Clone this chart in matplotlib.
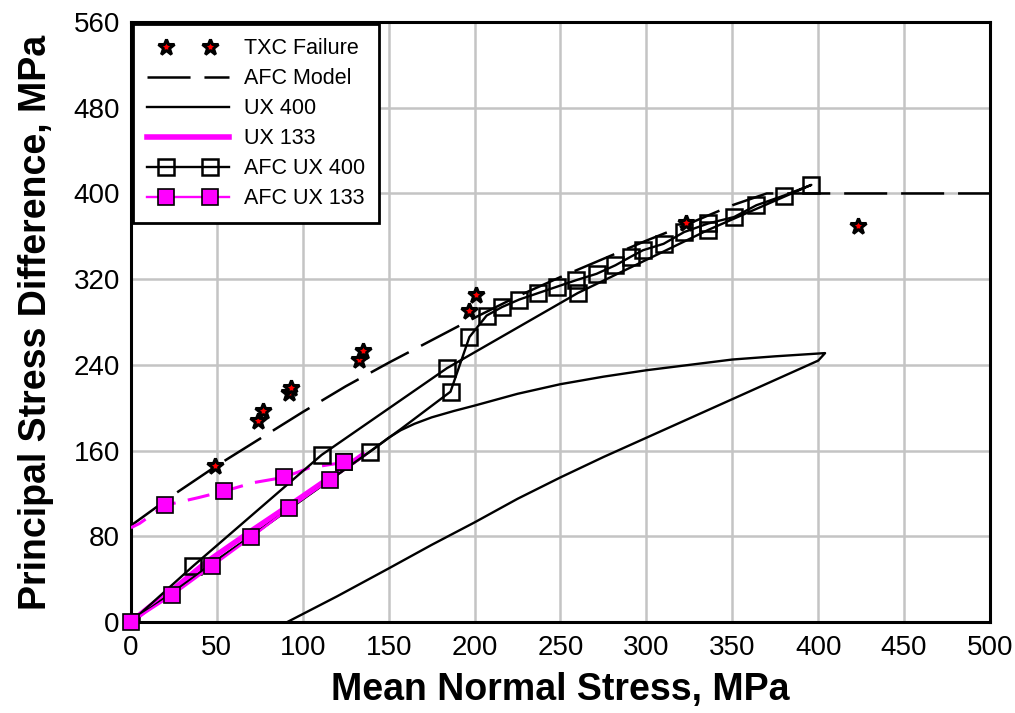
import matplotlib
matplotlib.use("Agg")
from matplotlib import pyplot as plt
from matplotlib.legend_handler import HandlerLine2D

# Pontos de ruptura TXC
txc_media = [49, 74, 77, 92, 93, 133, 135, 197, 201, 323, 423]
txc_diferenca = [146, 188, 197, 214, 218, 245, 253, 290, 305, 372, 370]

# Superficie do modelo AFC
afc_media = [0, 25, 50, 75, 100, 125, 150, 175, 200, 225, 250, 275, 300, 325, 350, 370, 500]
afc_diferenca = [90, 119, 146, 171, 196, 220, 242, 263, 284, 304, 322, 339, 356, 372, 389, 400, 400]

# Ensaio UX 400 (carga e descarga)
ux400_media = [0, 25, 50, 75, 100, 125, 140, 150, 157, 165, 175, 188, 200, 225, 250, 275, 300, 325, 350,
               375, 404, 400, 375, 350, 325, 300, 275, 250, 225, 200, 175, 150, 120, 91]
ux400_diferenca = [0, 29, 58, 86, 115, 143, 160, 172, 179, 185, 191, 197, 202, 213, 222, 229, 235, 240, 245,
                   248, 251, 244, 226, 208, 190, 172, 154, 135, 115, 93, 72, 50, 24, 0]

# Ensaio UX 133 (carga e descarga)
ux133_media = [0, 10, 25, 44, 70, 96, 116, 128, 135]
ux133_diferenca = [0, 13, 31, 56, 85, 113, 135, 148, 156]
ux133_descarga_media = [124, 104, 89, 71, 54, 39, 20, 5, 0]
ux133_descarga_diferenca = [149, 144, 135, 130, 122, 116, 109, 92, 88]

# Modelo AFC UX 400
afc400_media = [0, 139, 157, 186, 197, 207, 216, 226, 237, 248, 259, 271, 282, 291, 298, 310, 322, 336,
                351, 364, 380, 396, 336, 260, 184, 111, 36, 0]
afc400_diferenca = [0, 159, 180, 215, 266, 286, 294, 301, 307, 313, 319, 325, 333, 341, 347, 353, 364, 372,
                    378, 389, 398, 408, 366, 307, 237, 156, 52, 0]
afc400_marcas = [0, 1, 3, 4, 5, 6, 7, 8, 9, 10, 11, 12, 13, 14, 15, 16, 17, 18, 19, 20, 21, 22, 23, 24, 25, 26]

# Modelo AFC UX 133
afc133_media = [0, 24, 47, 70, 92, 116, 124]
afc133_diferenca = [0, 25, 52, 79, 106, 133, 149]
afc133_descarga_media = [124, 89, 54, 20]
afc133_descarga_diferenca = [149, 135, 122, 109]


class LinhaLegenda(HandlerLine2D):
    # linha da legenda passa alem dos dois marcadores
    def create_artists(self, legend, orig_handle, xdescent, ydescent, width, height, fontsize, trans):
        linha = super().create_artists(legend, orig_handle, xdescent, ydescent, width, height,
                                       fontsize, trans)[0]
        x = linha.get_xdata()
        y = linha.get_ydata()
        linha.set_data([-xdescent, x[0], x[-1], width - xdescent], [y[0]] * 4)
        linha.set_markevery([1, 2])
        return [linha]


plt.rcParams["font.family"] = ["Liberation Sans", "DejaVu Sans"]
plt.rcParams["lines.scale_dashes"] = False

fig = plt.figure(figsize=(10.15, 7.13), dpi=100)
ax = fig.add_axes([0.129, 0.1276, 0.8464, 0.8415])

ax.plot(txc_media, txc_diferenca, linestyle="none", marker="*", markersize=12,
        markerfacecolor="red", markeredgecolor="black", markeredgewidth=2.2, label="TXC Failure", zorder=6)
ax.plot(afc_media, afc_diferenca, color="black", linewidth=1.8, dashes=(31, 10), label="AFC Model", zorder=3)
ax.plot(ux400_media, ux400_diferenca, color="black", linewidth=1.7, label="UX 400", zorder=3)
ax.plot(ux133_media, ux133_diferenca, color="magenta", linewidth=4, label="UX 133", zorder=4)
ax.plot(ux133_descarga_media, ux133_descarga_diferenca, color="magenta", linewidth=2.2,
        dashes=(16, 9), zorder=4)
ax.plot(afc400_media, afc400_diferenca, color="black", linewidth=1.7, marker="s", markersize=11,
        markerfacecolor="none", markeredgecolor="black", markeredgewidth=1.8, markevery=afc400_marcas,
        label="AFC UX 400", zorder=5)
ax.plot(afc133_media, afc133_diferenca, color="magenta", linewidth=1.7, marker="s", markersize=12,
        markerfacecolor="magenta", markeredgecolor="black", markeredgewidth=1.2,
        label="AFC UX 133", zorder=7, clip_on=False)
ax.plot(afc133_descarga_media, afc133_descarga_diferenca, linestyle="none", marker="s", markersize=12,
        markerfacecolor="magenta", markeredgecolor="black", markeredgewidth=1.2, zorder=7)

# Formatar o grafico
ax.set_xlim(0, 500)
ax.set_ylim(0, 560)
ax.set_xticks(range(0, 501, 50))
ax.set_yticks(range(0, 561, 80))
ax.grid(True, color="#c4c4c4", linewidth=1.8)
ax.set_axisbelow(True)
ax.tick_params(axis="both", length=0, labelsize=20)
ax.tick_params(axis="x", pad=9)
ax.tick_params(axis="y", pad=8)
for lado in ax.spines.values():
    lado.set_linewidth(2.2)

ax.set_xlabel("Mean Normal Stress, MPa", fontsize=27, fontweight="bold", labelpad=8)
ax.set_ylabel("Principal Stress Difference, MPa", fontsize=27, fontweight="bold", labelpad=14)

leg = ax.legend(loc="upper left", numpoints=2, fontsize=15.5, handlelength=3.8, handletextpad=0.7,
                labelspacing=0.42, borderpad=0.65, borderaxespad=0.1, fancybox=False,
                edgecolor="black", framealpha=1,
                handler_map={matplotlib.lines.Line2D: LinhaLegenda(marker_pad=0.9)})
leg.get_frame().set_linewidth(2.0)

plt.savefig("out.png", dpi=100)
